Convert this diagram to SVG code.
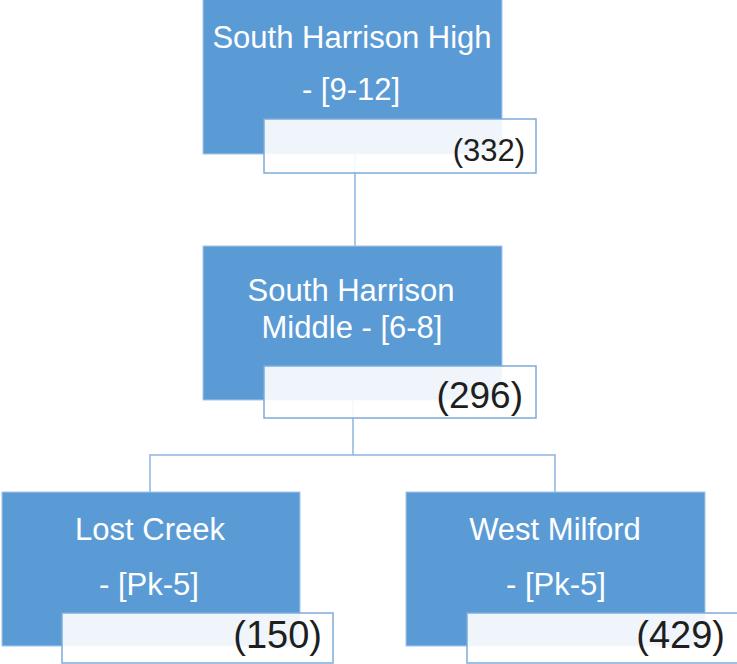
<svg xmlns="http://www.w3.org/2000/svg" width="737" height="664" viewBox="0 0 737 664">
<style>
.blue{fill:#5B9BD5;stroke:#A6C6EA;stroke-width:1}
.box{fill:#FFFFFF;fill-opacity:0.9;stroke:#7EAADB;stroke-width:1.5}
.t{font-family:"Liberation Sans",Arial,sans-serif;font-size:31px;fill:#FFFFFF;text-anchor:middle}
.n{font-family:"Liberation Sans",Arial,sans-serif;fill:#1E1E1E;text-anchor:end}
.c{fill:none;stroke:#8DB4E2;stroke-width:1.5}
</style>
<rect width="737" height="664" fill="#FFFFFF"/>
<g id="connectors">
<path class="c" d="M355 154 V246"/>
<path class="c" d="M353 400 V455"/>
<path class="c" d="M150 492 V455 H555 V492"/>
</g>
<g id="node-high">
<rect class="blue" x="203" y="-1" width="299" height="155"/>
<text class="t" x="352" y="48">South Harrison High</text>
<text class="t" x="351" y="100">- [9-12]</text>
<rect class="box" x="264" y="119" width="272" height="54"/>
<text class="n" x="525" y="161" font-size="31">(332)</text>
</g>
<g id="node-middle">
<rect class="blue" x="203" y="246" width="299" height="154"/>
<text class="t" x="351" y="301">South Harrison</text>
<text class="t" x="352" y="338">Middle - [6-8]</text>
<rect class="box" x="264" y="366" width="272" height="52"/>
<text class="n" x="523" y="408" font-size="37">(296)</text>
</g>
<g id="node-lostcreek">
<rect class="blue" x="2" y="492" width="298" height="154"/>
<text class="t" x="150" y="540">Lost Creek</text>
<text class="t" x="149" y="595">- [Pk-5]</text>
<rect class="box" x="62" y="613" width="271" height="50"/>
<text class="n" x="322" y="648" font-size="38">(150)</text>
</g>
<g id="node-westmilford">
<rect class="blue" x="406" y="492" width="299" height="154"/>
<text class="t" x="555" y="540">West Milford</text>
<text class="t" x="556" y="595">- [Pk-5]</text>
<rect class="box" x="467" y="613" width="275" height="50"/>
<text class="n" x="725" y="648" font-size="38">(429)</text>
</g>
</svg>
